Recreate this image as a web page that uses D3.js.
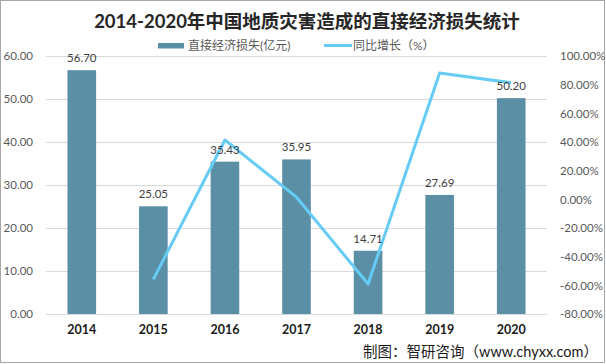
<!DOCTYPE html>
<html><head><meta charset="utf-8">
<script src="https://cdn.jsdelivr.net/npm/d3@7"></script>
<style>
html,body{margin:0;padding:0;background:#fff;}
svg text{font-family:Lato,"Noto Sans CJK SC",sans-serif;}
</style></head>
<body><svg id="c" width="606" height="364"></svg>
<script>
const years = ["2014","2015","2016","2017","2018","2019","2020"];
const losses = [56.70, 25.05, 35.43, 35.95, 14.71, 27.69, 50.20];
const growth = [null, -55.8, 41.4, 1.5, -59.1, 88.2, 81.3];
const leftTicks = [0,10,20,30,40,50,60];
const rightTicks = [-80,-60,-40,-20,0,20,40,60,80,100];
const title = "2014-2020年中国地质灾害造成的直接经济损失统计";
const legendLabels = ["直接经济损失(亿元)", "同比增长（%）"];
const source = "制图：智研咨询（www.chyxx.com）";

(function(){
const svg = d3.select("#c");
const W=606,H=364;
const pL=46,pR=547,pT=56,pB=314;
const barColor="#5b8fa6", lineColor="#66ccf5";

svg.append("rect").attr("x",0.5).attr("y",0.5).attr("width",W-2).attr("height",H-2)
  .attr("fill","#fff").attr("stroke","#a6a6a6");

const x = d3.scaleBand().domain(years).range([pL,pR]).paddingInner(0.6).paddingOuter(0.3);
const yL = d3.scaleLinear().domain([0,60]).range([pB,pT]);
const yR = d3.scaleLinear().domain([-80,100]).range([pB,pT]);

svg.append("g").selectAll("line").data(leftTicks).join("line")
  .attr("x1",pL).attr("x2",pR)
  .attr("y1",d=>Math.round(yL(d))+0.5).attr("y2",d=>Math.round(yL(d))+0.5)
  .attr("stroke","#d9d9d9").attr("stroke-width",1);

const gl = svg.append("g").attr("transform",`translate(${pL-10},0)`)
  .call(d3.axisLeft(yL).tickValues(leftTicks).tickFormat(d3.format(".2f")).tickSize(0));
gl.select(".domain").remove();
gl.selectAll("text").attr("fill","#595959").attr("font-size",11.5);

const gr = svg.append("g").attr("transform",`translate(${pR+10},0)`)
  .call(d3.axisRight(yR).tickValues(rightTicks).tickFormat(d=>d.toFixed(2)+"%").tickSize(0));
gr.select(".domain").remove();
gr.selectAll("text").attr("fill","#595959").attr("font-size",11.5);

const gx = svg.append("g").attr("transform",`translate(0,${pB+8})`)
  .call(d3.axisBottom(x).tickSize(0));
gx.select(".domain").remove();
gx.selectAll("text").attr("fill","#1a1a1a").attr("font-size",12.5).attr("font-weight","bold");

svg.append("g").selectAll("rect").data(losses).join("rect")
  .attr("x",(d,i)=>x(years[i])).attr("width",x.bandwidth())
  .attr("y",d=>yL(d)).attr("height",d=>pB-yL(d))
  .attr("fill",barColor);

const pts = growth.map((g,i)=>({g,i})).filter(p=>p.g!==null);
svg.append("path").datum(pts)
  .attr("d",d3.line().x(p=>x(years[p.i])+x.bandwidth()/2).y(p=>yR(p.g)))
  .attr("fill","none").attr("stroke",lineColor).attr("stroke-width",3)
  .attr("stroke-linejoin","round");

svg.append("g").selectAll("text").data(losses).join("text")
  .attr("x",(d,i)=>x(years[i])+x.bandwidth()/2).attr("y",d=>yL(d)-8)
  .attr("text-anchor","middle").attr("fill","#404040").attr("font-size",11.5)
  .text(d=>d.toFixed(2));

svg.append("text").attr("x",307).attr("y",28).attr("text-anchor","middle")
  .attr("font-size",18.5).attr("font-weight","bold").attr("fill","#262626").text(title);

const lg = svg.append("g");
lg.append("rect").attr("x",158).attr("y",43).attr("width",26).attr("height",5.5).attr("fill",barColor);
lg.append("text").attr("x",188).attr("y",50).attr("font-size",12).attr("fill","#595959").text(legendLabels[0]);
lg.append("line").attr("x1",324).attr("x2",352).attr("y1",45.5).attr("y2",45.5).attr("stroke",lineColor).attr("stroke-width",3);
lg.append("text").attr("x",353).attr("y",50).attr("font-size",12).attr("fill","#595959").text(legendLabels[1]);

svg.append("text").attr("x",598).attr("y",357).attr("text-anchor","end")
  .attr("font-size",14.5).attr("fill","#1a1a1a").text(source);
})();
</script></body></html>
